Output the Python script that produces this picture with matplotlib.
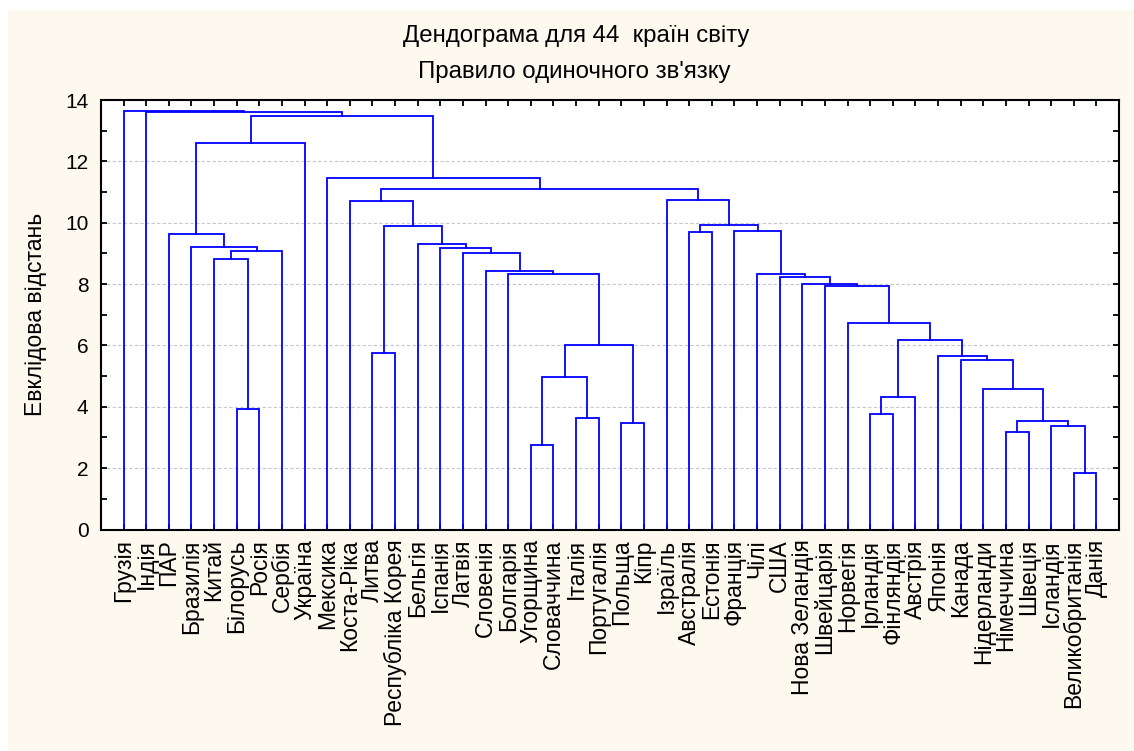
import matplotlib
matplotlib.use("Agg")
import matplotlib.pyplot as plt
from matplotlib.patches import Rectangle
from matplotlib.ticker import MultipleLocator, FixedLocator

countries = ["Грузія", "Індія", "ПАР", "Бразилія", "Китай", "Білорусь", "Росія",
             "Сербія", "Україна", "Мексика", "Коста-Ріка", "Литва", "Республіка Корея",
             "Бельгія", "Іспанія", "Латвія", "Словенія", "Болгарія", "Угорщина",
             "Словаччина", "Італія", "Португалія", "Польща", "Кіпр", "Ізраїль",
             "Австралія", "Естонія", "Франція", "Чілі", "США", "Нова Зеландія",
             "Швейцарія", "Норвегія", "Ірландія", "Фінляндія", "Австрія", "Японія",
             "Канада", "Нідерланди", "Німеччина", "Швеція", "Ісландія",
             "Великобританія", "Данія"]

# linkage: (left id, right id, distance); leaves are 0..43, merge k gets id 44+k
merge_left = [42, 41, 39, 46, 38, 37, 36, 33, 51, 52, 32, 31, 30, 29, 28, 27, 25, 60,
              24, 18, 20, 63, 22, 65, 17, 16, 15, 14, 13, 11, 73, 10, 75, 9, 5, 4, 79,
              3, 2, 82, 83, 1, 0]
merge_right = [43, 44, 40, 45, 47, 48, 49, 34, 35, 50, 53, 54, 55, 56, 57, 58, 26, 59,
               61, 19, 21, 64, 23, 66, 67, 68, 69, 70, 71, 12, 72, 74, 62, 76, 6, 78,
               7, 80, 81, 8, 77, 84, 85]
merge_dist = [1.83, 3.37, 3.19, 3.53, 4.59, 5.52, 5.67, 3.76, 4.32, 6.19, 6.73, 7.95,
              8.00, 8.23, 8.34, 9.73, 9.70, 9.92, 10.75, 2.76, 3.63, 4.98, 3.48, 6.00,
              8.33, 8.43, 9.01, 9.19, 9.29, 5.76, 9.89, 10.70, 11.09, 11.45, 3.92, 8.82,
              9.08, 9.20, 9.63, 12.61, 13.49, 13.61, 13.65]

W, H = 1134, 751
fig = plt.figure(figsize=(W / 100, H / 100), dpi=100, facecolor="white")
fig.patches.append(Rectangle((8 / W, 0), 1, 1 - 10 / H, transform=fig.transFigure,
                             facecolor="#fdf9ee", edgecolor="none", zorder=-10))

ax = fig.add_axes([101 / W, 1 - 529.5 / H, (1119 - 101) / W, (529.5 - 100) / H])
ax.set_facecolor("white")

n = len(countries)
xpos = {i: i + 1 for i in range(n)}
ypos = {i: 0.0 for i in range(n)}
for k, (a, b, d) in enumerate(zip(merge_left, merge_right, merge_dist)):
    xa, xb = xpos[a], xpos[b]
    ax.plot([xa, xa, xb, xb], [ypos[a], d, d, ypos[b]], color="#0000ff", lw=1.3,
            solid_joinstyle="miter", zorder=3)
    xpos[n + k] = (xa + xb) / 2
    ypos[n + k] = d

ax.set_xlim(0, n + 1)
ax.set_ylim(0, 14)

ax.yaxis.set_major_locator(MultipleLocator(2))
ax.yaxis.set_minor_locator(MultipleLocator(1))
ax.xaxis.set_major_locator(FixedLocator(range(1, n + 1)))
ax.set_xticklabels(countries, rotation=90, fontsize=16.5, family="Liberation Sans",
                   va="top", ha="center")
for lab in ax.get_yticklabels():
    lab.set_family("Liberation Sans")
ax.tick_params(axis="y", which="major", direction="in", length=4, width=1.3,
               labelsize=15, pad=9, right=True)
ax.tick_params(axis="y", which="minor", direction="in", length=4, width=1.3, right=True)
ax.tick_params(axis="x", which="major", direction="in", length=4, width=1.3,
               top=True, pad=7)

ax.grid(axis="y", which="major", color="#c8c8c8", lw=0.8, ls=(0, (3, 2)), zorder=0)
for s in ax.spines.values():
    s.set_linewidth(1.5)
    s.set_zorder(5)

ax.set_ylabel("Евклідова відстань", fontsize=16.5, family="Liberation Sans")
ax.yaxis.set_label_coords(-0.053, 0.5)

fig.text(576 / W, 1 - 36 / H, "Дендограма для 44  країн світу", ha="center",
         va="center", fontsize=17.3, family="Liberation Sans")
fig.text(574 / W, 1 - 72 / H, "Правило одиночного зв'язку", ha="center",
         va="center", fontsize=17.3, family="Liberation Sans")

fig.savefig("out.png", dpi=100, facecolor=fig.get_facecolor())
